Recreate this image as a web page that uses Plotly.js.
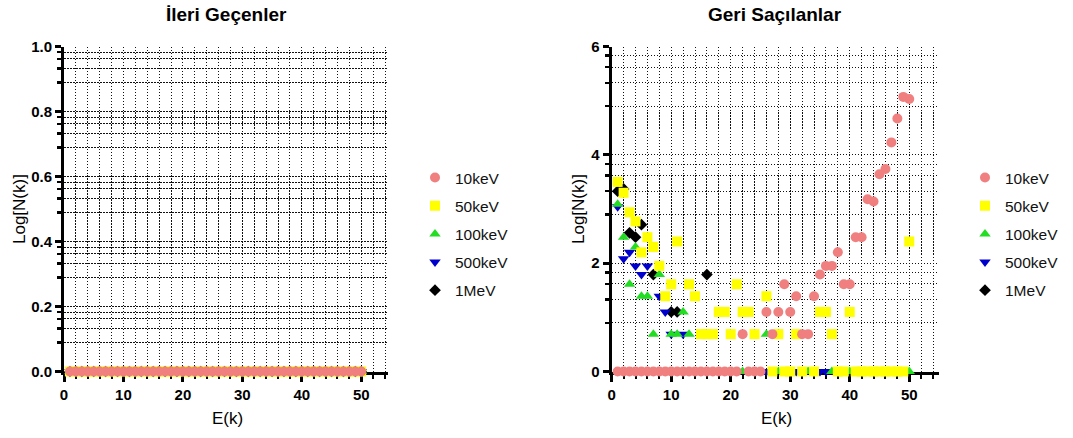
<!DOCTYPE html>
<html><head><meta charset="utf-8">
<script src="https://cdn.plot.ly/plotly-3.0.1.min.js"></script>
<style>html,body{margin:0;padding:0;background:#fff}#chart{width:1073px;height:438px}</style>
</head><body><div id="chart"></div>
<script>
// ---------- DATA ----------
const seriesNames = ['10keV', '50keV', '100keV', '500keV', '1MeV'];
const panelTitles = ['İleri Geçenler', 'Geri Saçılanlar'];
const xTitle = 'E(k)';
const yTitle = 'Log[N(k)]';
const xTickVals = [0, 10, 20, 30, 40, 50];

// Left panel (İleri Geçenler): every series lies on 0
const leftE = [1,2,3,4,5,6,7,8,9,10,11,12,13,14,15,16,17,18,19,20,21,22,23,24,25,26,27,28,29,30,31,32,33,34,35,36,37,38,39,40,41,42,43,44,45,46,47,48,49,50];
const leftLogN = [0,0,0,0,0,0,0,0,0,0,0,0,0,0,0,0,0,0,0,0,0,0,0,0,0,0,0,0,0,0,0,0,0,0,0,0,0,0,0,0,0,0,0,0,0,0,0,0,0,0];

// Right panel (Geri Saçılanlar)
const back10keV_E = [1,2,3,4,5,6,7,8,9,10,11,12,13,14,15,16,17,18,19,20,21,22,23,24,25,26,27,28,29,30,31,32,33,34,35,36,37,38,39,40,41,42,43,44,45,46,47,48,49,50];
const back10keV_logN = [0,0,0,0,0,0,0,0,0,0,0,0,0,0,0,0,0,0,0,0,0,0.69,0,0,0,1.10,0.69,1.10,1.61,1.10,1.39,0.69,0.69,1.39,1.79,1.95,1.95,2.20,1.61,1.61,2.48,2.48,3.18,3.14,3.64,3.74,4.23,4.67,5.07,5.03];

const back50keV_E = [1,2,3,4,5,6,7,8,9,10,11,13,14,15,16,17,18,19,20,21,22,23,24,26,27,28,29,30,31,32,34,35,36,37,38,39,40,41,42,43,44,45,46,47,48,49,50];
const back50keV_logN = [3.50,3.30,2.94,2.77,2.20,2.48,2.30,1.95,1.39,1.61,2.40,1.61,1.39,0.69,0.69,0.69,1.10,1.10,0.69,1.61,1.10,1.10,0.69,1.39,0,0.69,0,0,0.69,0,0,1.10,1.10,0.69,0,0,1.10,0,0,0,0,0,0,0,0,0,2.40];

const back100keV_E = [1,2,3,4,5,6,7,8,10,11,12,13,22,26,28,33,37,40,50];
const back100keV_logN = [3.09,2.48,1.61,2.30,1.39,1.39,0.69,1.79,0.69,0.69,1.10,0.69,0,0.69,0,0,0,0,0];

const back500keV_E = [1,2,3,4,5,6,8,9,10,12,26,31,35,36];
const back500keV_logN = [3.04,2.08,2.20,1.95,1.79,1.95,1.39,1.10,0.69,0.69,0,0,0,0];

const back1MeV_E = [1,2,3,4,5,7,10,11,16];
const back1MeV_logN = [3.33,3.37,2.56,2.48,2.71,1.79,1.10,1.10,1.79];

// ---------- STYLE ----------
const colors = ['#F08080', '#FFFF00', '#22DD22', '#0000CC', '#000000'];
const symbols = ['circle', 'square', 'triangle-up', 'triangle-down', 'diamond'];
const sizes = [10, 10, 10, 10, 9];
const FONT = 'Liberation Sans, Arial, sans-serif';
const W = 1073, H = 438;
const yDom = [1 - 371.5 / H, 1 - 46.5 / H];
const leftDom = [64 / W, 388 / W];
const rightDom = [611.7 / W, 939 / W];
const minorFrac = [0.45, 0.665, 0.81, 0.915];

function minorVals(step, max) {
  const out = [];
  for (let a = 0; a < max - 1e-9; a += step) minorFrac.forEach(f => out.push(+(a + f * step).toFixed(4)));
  return out;
}

const rightData = [
  [back10keV_E, back10keV_logN],
  [back50keV_E, back50keV_logN],
  [back100keV_E, back100keV_logN],
  [back500keV_E, back500keV_logN],
  [back1MeV_E, back1MeV_logN]
];

const traces = [];
// first series drawn on top: add in reverse order
for (let i = seriesNames.length - 1; i >= 0; i--) {
  traces.push({
    type: 'scatter', mode: 'markers', name: seriesNames[i],
    x: leftE, y: leftLogN, xaxis: 'x', yaxis: 'y',
    legend: 'legend', legendgroup: 'L' + i, legendrank: i + 1,
    cliponaxis: false,
    marker: {color: colors[i], symbol: symbols[i], size: sizes[i], line: {width: 0}}
  });
}
for (let i = seriesNames.length - 1; i >= 0; i--) {
  traces.push({
    type: 'scatter', mode: 'markers', name: seriesNames[i],
    x: rightData[i][0], y: rightData[i][1], xaxis: 'x2', yaxis: 'y2',
    legend: 'legend2', legendgroup: 'R' + i, legendrank: i + 1,
    cliponaxis: false,
    marker: {color: colors[i], symbol: symbols[i], size: sizes[i], line: {width: 0}}
  });
}

const tickFont = {family: FONT, size: 15, color: '#000'};
const gridDash = '1.5px,1.5px';
const gridColor = '#111';
const gridW = 1;

function xAxis(dom, range, yId) {
  return {
    domain: dom, range: range, anchor: yId, showgrid: true, gridcolor: gridColor, griddash: gridDash, gridwidth: gridW,
    zeroline: false, showline: true, linecolor: '#000', linewidth: 3, layer: 'below traces',
    tickmode: 'array', tickvals: xTickVals, ticktext: xTickVals.map(v => '<b>' + v + '</b>'),
    ticks: 'outside', ticklen: 7, tickwidth: 3, tickcolor: '#000', tickfont: tickFont,
    minor: {tickmode: 'linear', tick0: 0, dtick: 2, ticks: 'outside', ticklen: 4, tickwidth: 2, tickcolor: '#000',
            showgrid: true, gridcolor: gridColor, griddash: gridDash, gridwidth: gridW}
  };
}
function xTop(over, dom, range, yId) {
  return {
    overlaying: over, side: 'top', domain: dom, range: range, anchor: yId, showgrid: false, zeroline: false,
    showline: true, linecolor: '#000', linewidth: 3, showticklabels: false,
    tickmode: 'array', tickvals: xTickVals, ticks: 'inside', ticklen: 6, tickwidth: 3, tickcolor: '#000',
    minor: {tickmode: 'linear', tick0: 0, dtick: 2, ticks: 'inside', ticklen: 5, tickwidth: 2.5, tickcolor: '#000', showgrid: false}
  };
}
function yAxis(range, step, xId, dec) {
  const major = [];
  for (let v = 0; v <= range[1] + 1e-9; v += step) major.push(+v.toFixed(4));
  return {
    domain: yDom, range: range, anchor: xId, showgrid: true, gridcolor: gridColor, griddash: gridDash, gridwidth: gridW,
    zeroline: false, showline: true, linecolor: '#000', linewidth: 3, layer: 'below traces',
    tickmode: 'array', tickvals: major, ticktext: major.map(v => '<b>' + v.toFixed(dec) + '</b>'),
    ticks: 'outside', ticklen: 6, tickwidth: 3, tickcolor: '#000', tickfont: tickFont,
    minor: {tickmode: 'array', tickvals: minorVals(step, range[1]), ticks: 'outside', ticklen: 4, tickwidth: 2.5, tickcolor: '#000',
            showgrid: true, gridcolor: gridColor, griddash: gridDash, gridwidth: gridW}
  };
}
function yRight(over, range, step, xId) {
  const major = [];
  for (let v = 0; v <= range[1] + 1e-9; v += step) major.push(+v.toFixed(4));
  return {
    overlaying: over, side: 'right', domain: yDom, range: range, anchor: xId, showgrid: false, zeroline: false,
    showline: true, linecolor: '#000', linewidth: 3, showticklabels: false,
    tickmode: 'array', tickvals: major, ticks: 'inside', ticklen: 6, tickwidth: 3, tickcolor: '#000',
    minor: {tickmode: 'array', tickvals: minorVals(step, range[1]), ticks: 'inside', ticklen: 4, tickwidth: 2.5, tickcolor: '#000', showgrid: false}
  };
}

const legendCommon = {
  yanchor: 'top', y: 1 - 161 / H, xanchor: 'left', bgcolor: 'rgba(0,0,0,0)',
  font: {family: FONT, size: 15.5, color: '#111'}, tracegroupgap: 5, itemsizing: 'trace'
};

function ann(text, px, py, size, bold, angle) {
  return {text: text, x: px / W, y: 1 - py / H, xref: 'paper', yref: 'paper', xanchor: 'center', yanchor: 'middle',
          showarrow: false, textangle: angle || 0,
          font: {family: FONT, size: size, color: '#000', weight: bold ? 'bold' : 'normal'}};
}

const layout = {
  width: W, height: H, margin: {l: 0, r: 0, t: 0, b: 0},
  paper_bgcolor: '#fff', plot_bgcolor: '#fff', showlegend: true,
  xaxis: xAxis(leftDom, [0, 54.5], 'y'),
  yaxis: yAxis([0, 1], 0.2, 'x', 1),
  xaxis2: xAxis(rightDom, [0, 55], 'y2'),
  yaxis2: yAxis([0, 6], 2, 'x2', 0),
  xaxis3: xTop('x', leftDom, [0, 54.5], 'y'),
  yaxis3: yRight('y', [0, 1], 0.2, 'x'),
  xaxis4: xTop('x2', rightDom, [0, 55], 'y2'),
  yaxis4: yRight('y2', [0, 6], 2, 'x2'),
  legend: Object.assign({x: 415 / W}, legendCommon),
  legend2: Object.assign({x: 965 / W}, legendCommon),
  annotations: [
    ann(panelTitles[0], 226, 14, 19, true),
    ann(panelTitles[1], 775, 14, 19, true),
    ann(xTitle, 227, 418, 17, false),
    ann(xTitle, 776, 418, 17, false),
    ann(yTitle, 19, 209, 17, false, -90),
    ann(yTitle, 578, 209, 17, false, -90)
  ]
};

Plotly.newPlot('chart', traces, layout, {staticPlot: true, displayModeBar: false});
</script>
</body></html>
